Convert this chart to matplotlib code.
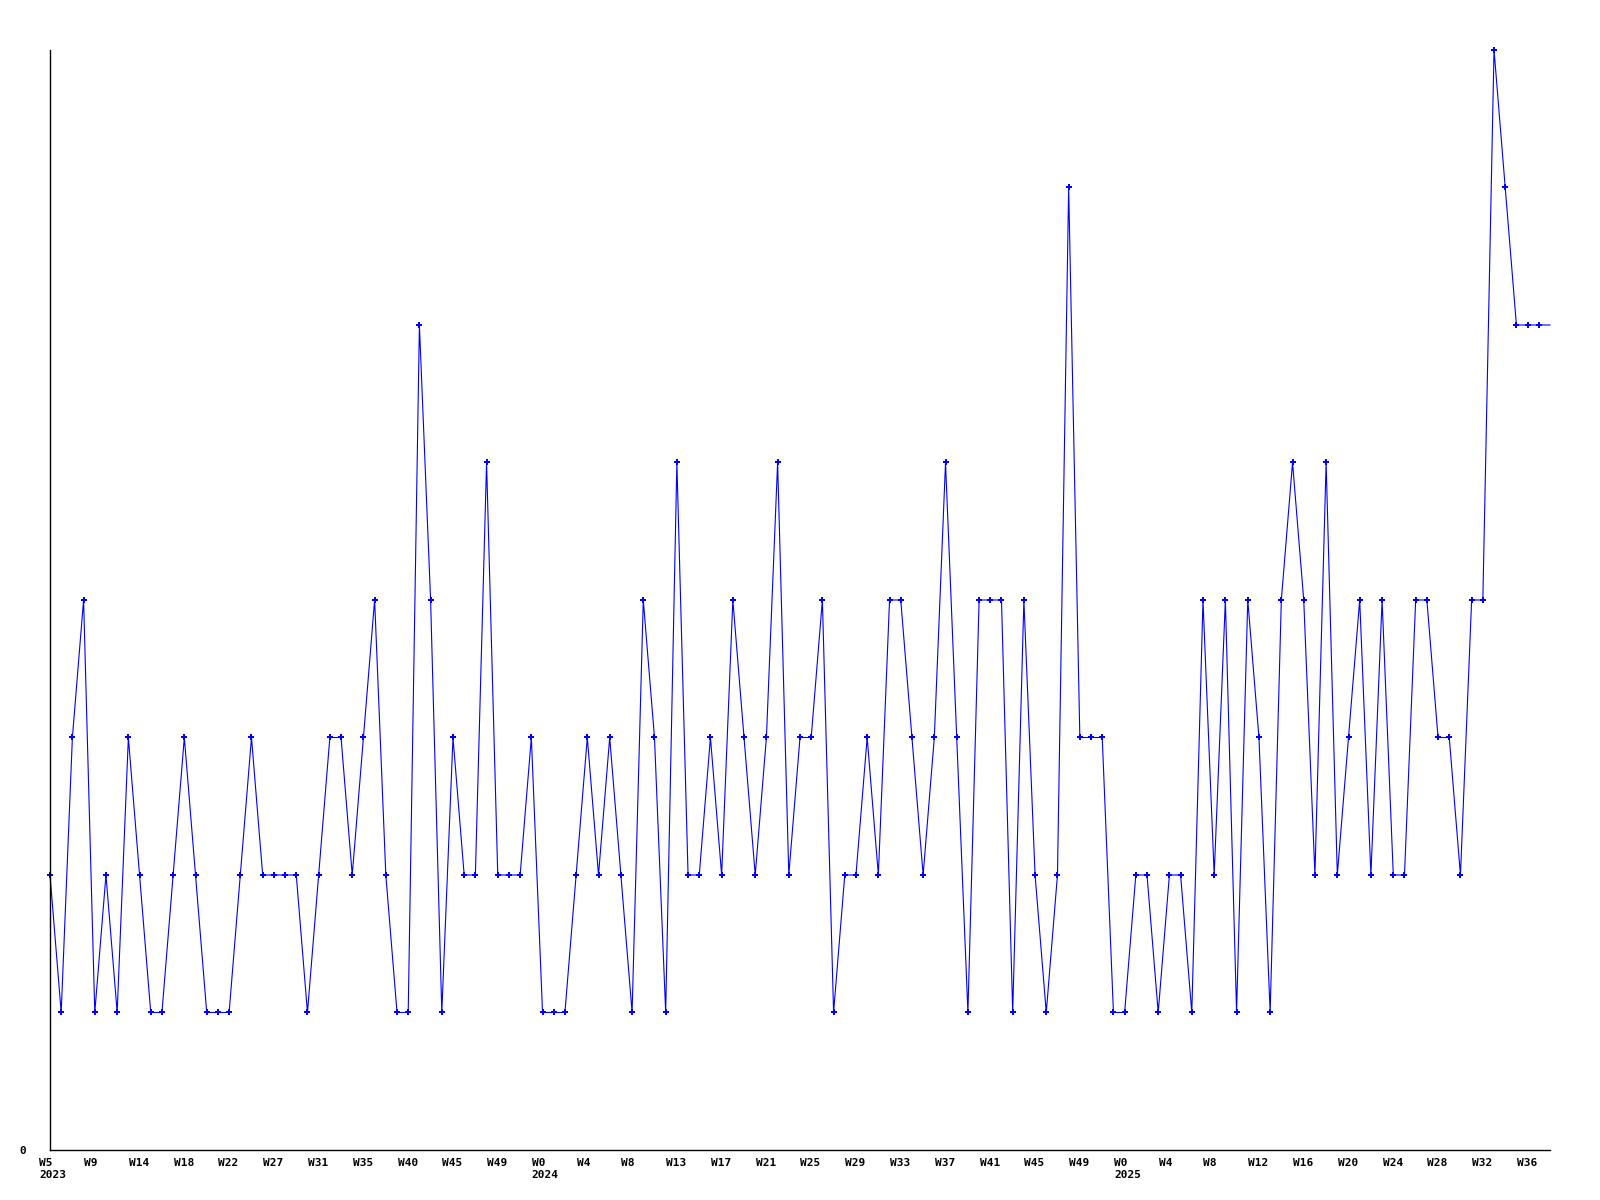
import matplotlib
matplotlib.use('Agg')
import matplotlib.pyplot as plt
import matplotlib.transforms as mtransforms

# weekly counts
values = [2, 1, 3, 4, 1, 2, 1, 3, 2, 1,
          1, 2, 3, 2, 1, 1, 1, 2, 3, 2,
          2, 2, 2, 1, 2, 3, 3, 2, 3, 4,
          2, 1, 1, 6, 4, 1, 3, 2, 2, 5,
          2, 2, 2, 3, 1, 1, 1, 2, 3, 2,
          3, 2, 1, 4, 3, 1, 5, 2, 2, 3,
          2, 4, 3, 2, 3, 5, 2, 3, 3, 4,
          1, 2, 2, 3, 2, 4, 4, 3, 2, 3,
          5, 3, 1, 4, 4, 4, 1, 4, 2, 1,
          2, 7, 3, 3, 3, 1, 1, 2, 2, 1,
          2, 2, 1, 4, 2, 4, 1, 4, 3, 1,
          4, 5, 4, 2, 5, 2, 3, 4, 2, 4,
          2, 2, 4, 4, 3, 3, 2, 4, 4, 8,
          7, 6, 6, 6]
# current (partial) week, drawn without a marker
last_value = 6

tick_labels = ["W5\n2023", "W9", "W14", "W18", "W22", "W27", "W31", "W35", "W40",
               "W45", "W49", "W0\n2024", "W4", "W8", "W13", "W17", "W21", "W25",
               "W29", "W33", "W37", "W41", "W45", "W49", "W0\n2025", "W4", "W8",
               "W12", "W16", "W20", "W24", "W28", "W32", "W36"]
tick_step = 4

ys = values + [last_value]
xs = list(range(len(ys)))

fig = plt.figure(figsize=(16, 12), dpi=100)
ax = fig.add_axes([0.03125, 0.04167, 0.9375, 0.91667])

ax.plot(xs, ys, color='#0000ff', linewidth=0.8,
        marker='P', markersize=4, markeredgewidth=0,
        markevery=list(range(len(values))), clip_on=False)

ax.set_xlim(0, len(values))
ax.set_ylim(0, 8)

ax.spines['top'].set_visible(False)
ax.spines['right'].set_visible(False)
ax.spines['left'].set_linewidth(1)
ax.spines['bottom'].set_linewidth(1)

ax.set_yticks([0])
ax.set_yticklabels(['0'], fontfamily='DejaVu Sans Mono', fontweight='bold', fontsize=8)
ax.tick_params(axis='y', length=0, pad=17)

ax.set_xticks([i * tick_step for i in range(len(tick_labels))])
ax.set_xticklabels(tick_labels, fontfamily='DejaVu Sans Mono', fontweight='bold',
                   fontsize=8, ha='left', linespacing=1.25)
ax.tick_params(axis='x', length=0, pad=6)
offset = mtransforms.ScaledTranslation(-10.7 / 100, 0, fig.dpi_scale_trans)
for lbl in ax.get_xticklabels():
    lbl.set_transform(lbl.get_transform() + offset)

fig.savefig('out.png', dpi=100, facecolor='white')
